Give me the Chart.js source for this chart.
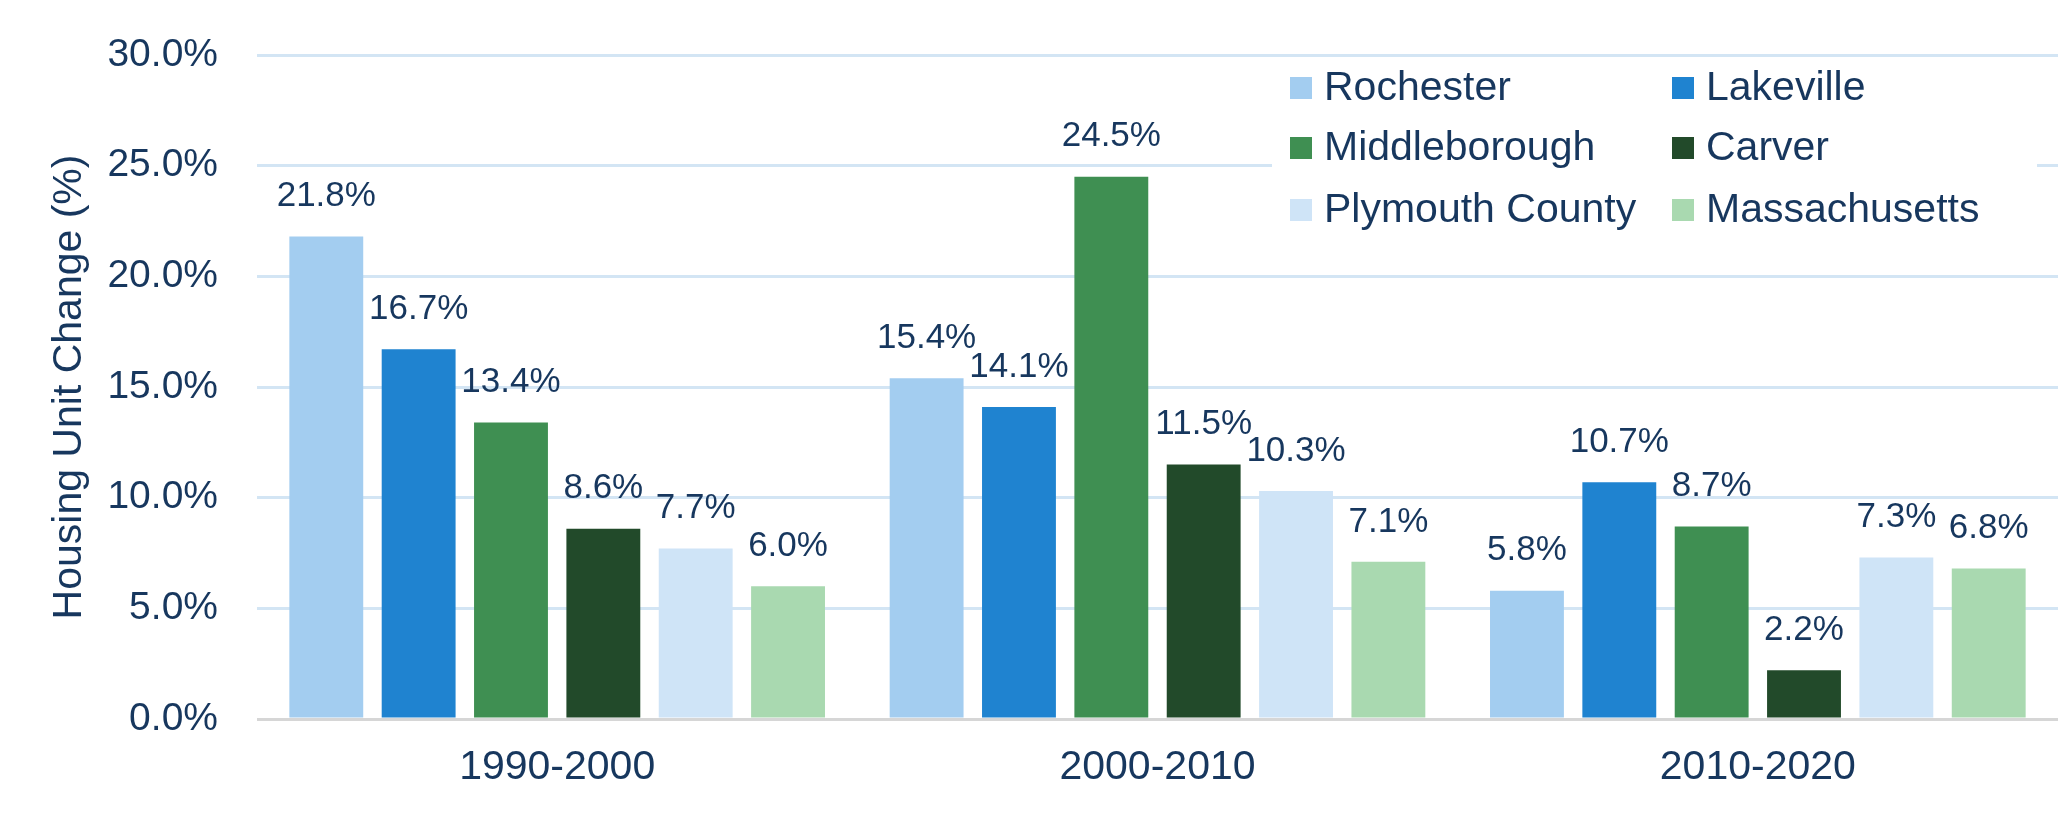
<!DOCTYPE html>
<html>
<head>
<meta charset="utf-8">
<script src="https://cdn.jsdelivr.net/npm/chart.js@4/dist/chart.umd.min.js"></script>
<style>
html,body{margin:0;padding:0;background:#fff;}
#wrap{width:2068px;height:840px;}
</style>
</head>
<body>
<div id="wrap"><canvas id="c" width="2068" height="840"></canvas></div>
<script>
const categories = ["1990-2000", "2000-2010", "2010-2020"];
const seriesNames = ["Rochester", "Lakeville", "Middleborough", "Carver", "Plymouth County", "Massachusetts"];
const rochester = [21.8, 15.4, 5.8];
const lakeville = [16.7, 14.1, 10.7];
const middleborough = [13.4, 24.5, 8.7];
const carver = [8.6, 11.5, 2.2];
const plymouthCounty = [7.7, 10.3, 7.3];
const massachusetts = [6.0, 7.1, 6.8];
const yTicks = [0, 5, 10, 15, 20, 25, 30];
const colors = ["#a3cdf0", "#1f83d0", "#3f8f52", "#224a2a", "#cfe4f7", "#a9d9b0"];

const TEXT = "#17375e";
const FONT = "'Liberation Sans', Arial, sans-serif";
const seriesValues = [rochester, lakeville, middleborough, carver, plymouthCounty, massachusetts];

const labelPlugin = {
  id: 'valueLabels',
  afterDatasetsDraw(chart) {
    const ctx = chart.ctx;
    ctx.save();
    ctx.fillStyle = TEXT;
    ctx.font = "35px " + FONT;
    ctx.textAlign = 'center';
    ctx.textBaseline = 'middle';
    chart.data.datasets.forEach((ds, i) => {
      const meta = chart.getDatasetMeta(i);
      meta.data.forEach((bar, j) => {
        ctx.fillText(ds.data[j].toFixed(1) + '%', bar.x, bar.y - 40);
      });
    });
    ctx.restore();
  }
};

const legendPlugin = {
  id: 'customLegend',
  afterDraw(chart) {
    const ctx = chart.ctx;
    ctx.save();
    ctx.fillStyle = '#ffffff';
    ctx.fillRect(1272, 64, 765, 176);
    const cols = [1290, 1672];
    const rows = [88, 148, 210];
    ctx.font = "41px " + FONT;
    ctx.textBaseline = 'middle';
    ctx.textAlign = 'left';
    chart.data.datasets.forEach((ds, i) => {
      const cx = cols[i % 2];
      const cy = rows[Math.floor(i / 2)];
      ctx.fillStyle = ds.backgroundColor;
      ctx.fillRect(cx, cy - 11, 22, 22);
      ctx.fillStyle = TEXT;
      ctx.fillText(ds.label, cx + 34, cy + 1);
    });
    ctx.restore();
  }
};

new Chart(document.getElementById('c'), {
  type: 'bar',
  data: {
    labels: categories,
    datasets: seriesNames.map((n, i) => ({
      label: n,
      data: seriesValues[i],
      backgroundColor: colors[i],
      borderWidth: 0,
      categoryPercentage: 0.923,
      barPercentage: 0.8
    }))
  },
  options: {
    responsive: false,
    devicePixelRatio: 1,
    animation: false,
    layout: { padding: { top: 55, right: 10, left: 0, bottom: 0 } },
    plugins: { legend: { display: false }, tooltip: { enabled: false } },
    scales: {
      x: {
        grid: { display: false },
        border: { display: false },
        ticks: { color: TEXT, font: { family: FONT, size: 41 }, padding: 16 },
        afterFit(scale) { scale.height = 121; }
      },
      y: {
        min: 0, max: 30,
        afterBuildTicks(scale) { scale.ticks = yTicks.map(v => ({ value: v })); },
        ticks: {
          color: TEXT, font: { family: FONT, size: 39 }, padding: 39,
          callback: v => v.toFixed(1) + '%'
        },
        grid: {
          drawTicks: false,
          lineWidth: 3,
          color: c => (c.tick && c.tick.value === 0) ? '#d6d6d6' : '#d3e5f4'
        },
        border: { display: false },
        title: {
          display: true, text: 'Housing Unit Change (%)', color: TEXT,
          font: { family: FONT, size: 41 }, padding: { top: 45, bottom: 0 }
        },
        afterFit(scale) { scale.width = 257; scale.paddingTop = 0; scale.paddingBottom = 0; }
      }
    }
  },
  plugins: [labelPlugin, legendPlugin]
});
</script>
</body>
</html>
